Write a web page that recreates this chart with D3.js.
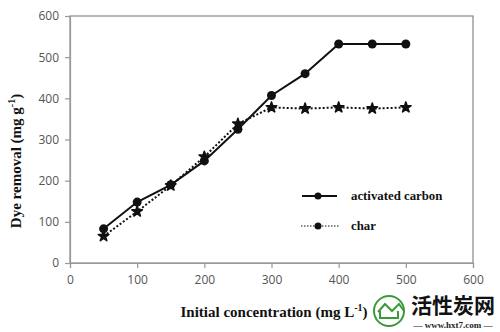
<!DOCTYPE html>
<html><head><meta charset="utf-8">
<script src="https://cdn.jsdelivr.net/npm/d3@7"></script>
<style>body{margin:0;background:#fff}svg{display:block}</style>
</head><body>
<script>
const concentrations = [50,100,150,200,250,300,350,400,450,500];
const activatedCarbon = [83,148,190,248,325,407,460,532,532,532];
const charValues = [65,125,188,258,338,378,375,378,375,378];
const xTicks = [0,100,200,300,400,500,600];
const yTicks = [0,100,200,300,400,500,600];
const seriesNames = ["activated carbon","char"];

const W=500,H=332;
const svg=d3.select("body").append("svg").attr("width",W).attr("height",H);
const x=d3.scaleLinear().domain([0,600]).range([70,473]);
const y=d3.scaleLinear().domain([0,600]).range([263,16]);

// frame
svg.append("rect").attr("x",70).attr("y",16).attr("width",403).attr("height",247)
  .attr("fill","none").attr("stroke","#888").attr("stroke-width",1.2);

const xa=svg.append("g").attr("transform","translate(0,263)")
  .call(d3.axisBottom(x).tickValues(xTicks).tickSize(5).tickPadding(7).tickFormat(d3.format("d")));
const ya=svg.append("g").attr("transform","translate(70,0)")
  .call(d3.axisLeft(y).tickValues(yTicks).tickSize(5).tickPadding(6).tickFormat(d3.format("d")));
[xa,ya].forEach(a=>{
  a.selectAll("path,line").attr("stroke","#999").attr("stroke-width",1.2);
  a.selectAll("text").attr("fill","#555").style("font-family","'Open Sans','DejaVu Sans',sans-serif").style("font-size","12px");
});

const line=d3.line().x((d,i)=>x(concentrations[i])).y(d=>y(d));
svg.append("path").datum(charValues).attr("d",line).attr("fill","none")
  .attr("stroke","#111").attr("stroke-width",2).attr("stroke-dasharray","2,2");
svg.append("path").datum(activatedCarbon).attr("d",line).attr("fill","none")
  .attr("stroke","#111").attr("stroke-width",2);

const star=d3.symbol().type(d3.symbolStar).size(34);
svg.selectAll(".st").data(charValues).enter().append("path")
  .attr("d",star).attr("transform",(d,i)=>`translate(${x(concentrations[i])},${y(d)})`)
  .attr("fill","#111").attr("stroke","#111").attr("stroke-width",1.6).attr("stroke-linejoin","round");
svg.selectAll(".ci").data(activatedCarbon).enter().append("circle")
  .attr("cx",(d,i)=>x(concentrations[i])).attr("cy",d=>y(d)).attr("r",4.5).attr("fill","#111");

// legend
const lg=svg.append("g");
const ly=[196,226];
lg.append("line").attr("x1",302).attr("x2",337).attr("y1",ly[0]).attr("y2",ly[0]).attr("stroke","#111").attr("stroke-width",2);
lg.append("circle").attr("cx",318).attr("cy",ly[0]).attr("r",3.5).attr("fill","#111");
lg.append("line").attr("x1",301).attr("x2",339).attr("y1",ly[1]).attr("y2",ly[1]).attr("stroke","#111").attr("stroke-width",1.2).attr("stroke-dasharray","1.5,1.5");
lg.append("circle").attr("cx",318).attr("cy",ly[1]).attr("r",3.5).attr("fill","#111");
seriesNames.forEach((n,i)=>{
  lg.append("text").attr("x",351).attr("y",ly[i]+4).text(n)
    .style("font-family","'Liberation Serif',serif").style("font-weight","bold").style("font-size","12.8px").attr("fill","#111");
});

// axis titles
svg.append("text").attr("x",274).attr("y",317).attr("text-anchor","middle")
  .style("font-family","'Liberation Serif',serif").style("font-weight","bold").style("font-size","15px").attr("fill","#111")
  .html('Initial concentration (mg L<tspan dy="-6" font-size="10px">-1</tspan><tspan dy="6">)</tspan>');
svg.append("text").attr("transform","translate(21,161) rotate(-90)").attr("text-anchor","middle")
  .style("font-family","'Liberation Serif',serif").style("font-weight","bold").style("font-size","15px").attr("fill","#111")
  .html('Dye removal (mg g<tspan dy="-6" font-size="10px">-1</tspan><tspan dy="6">)</tspan>');

// watermark
const wm=svg.append("g");
wm.append("circle").attr("cx",389).attr("cy",311).attr("r",15).attr("fill","none").attr("stroke","#3a9a3a").attr("stroke-width",2);
wm.append("path").attr("d","M378,312 L385,304 L392,311 L399,304 L404,311 M380,311 L380,318 L398,318 L398,311")
  .attr("fill","none").attr("stroke","#3a9a3a").attr("stroke-width",2);
wm.append("text").attr("x",453).attr("y",313).attr("text-anchor","middle").text("活性炭网")
  .style("font-family","'Noto Sans CJK SC',sans-serif").style("font-weight","bold").style("font-size","21px").attr("fill","#111");
wm.append("text").attr("x",453).attr("y",328).attr("text-anchor","middle").text("— www.hxt7.com —")
  .style("font-family","'Liberation Serif',serif").style("font-weight","bold").style("font-size","9px").attr("fill","#222");
</script>
</body></html>
